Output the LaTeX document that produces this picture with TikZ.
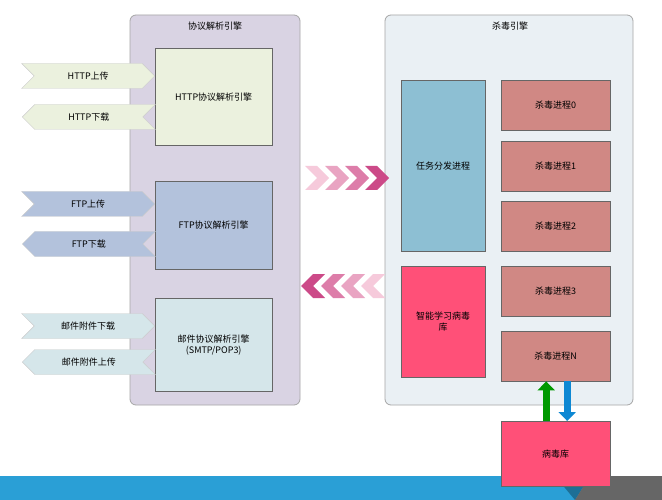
\documentclass[tikz,border=0pt]{standalone}
\usepackage{fontspec}
\setmainfont{Noto Sans CJK SC}
\usetikzlibrary{shapes.symbols,arrows.meta}
\definecolor{groupL}{HTML}{D9D3E3}
\definecolor{groupR}{HTML}{EAF0F4}
\definecolor{httpC}{HTML}{EBF1DE}
\definecolor{ftpC}{HTML}{B3C2DC}
\definecolor{mailC}{HTML}{D5E6EA}
\definecolor{taskC}{HTML}{8DBFD3}
\definecolor{libC}{HTML}{FF5078}
\definecolor{killC}{HTML}{D08884}
\definecolor{bandC}{HTML}{2A9FD6}
\definecolor{chevDark}{HTML}{CC4A88}
\definecolor{chevLight}{HTML}{F6CADB}
\begin{document}
\begin{tikzpicture}[x=1pt,y=-1pt,
	font=\fontsize{9}{11}\selectfont,
	group/.style={draw=gray!70, rounded corners=6pt, thick},
	block/.style={draw=gray!80!black, anchor=north west, inner sep=2pt, align=center},
	flowin/.style={shape=signal, signal to=east, signal from=west,
		minimum width=133pt, minimum height=25pt, inner sep=0pt, draw=gray!40, anchor=east},
	flowout/.style={shape=signal, signal to=west, signal from=east,
		minimum width=133pt, minimum height=25pt, inner sep=0pt, draw=gray!40, anchor=west},
	]
	\useasboundingbox (0,0) rectangle (662,500);
	\fill[white] (0,0) rectangle (662,500);

	% bottom band
	\fill[bandC] (0,476) rectangle (662,500);
	\fill[bandC!70!black] (555,476) -- (590,476) -- (575,500) -- cycle;
	\fill[gray!80!black] (590,476) -- (662,476) -- (662,500) -- (575,500) -- cycle;

	% containers
	\draw[group, fill=groupL] (130,15) rectangle (300,405);
	\node (protoT) at (215,26) {协议解析引擎};
	\draw[group, fill=groupR] (385,15) rectangle (633,405);
	\node (avT) at (510,26) {杀毒引擎};

	% protocol engines
	\node[block, fill=httpC, minimum width=117pt, minimum height=97pt] (http) at (155,48) {HTTP协议解析引擎};
	\node[block, fill=ftpC, minimum width=117pt, minimum height=88pt] (ftp) at (155,181) {FTP协议解析引擎};
	\node[block, fill=mailC, minimum width=117pt, minimum height=93pt] (mail) at (155,298) {邮件协议解析引擎\\(SMTP/POP3)};

	% in/out flows
	\node[flowin, fill=httpC] (httpUp) at (155,76) {HTTP上传};
	\node[flowout, fill=httpC] (httpDown) at (22,117) {HTTP下载};
	\node[flowin, fill=ftpC] (ftpUp) at (155,204) {FTP上传};
	\node[flowout, fill=ftpC] (ftpDown) at (22,244) {FTP下载};
	\node[flowin, fill=mailC] (mailDown) at (155,326) {邮件附件下载};
	\node[flowout, fill=mailC] (mailUp) at (22,362) {邮件附件上传};

	% antivirus engine
	\node[block, fill=taskC, minimum width=84pt, minimum height=171pt] (task) at (401,80) {任务分发进程};
	\node[block, fill=libC, minimum width=84pt, minimum height=111pt] (learn) at (401,266) {智能学习病毒\\库};
	\foreach \name/\y in {0/80, 1/141, 2/201, 3/266, N/331}
		\node[block, fill=killC, minimum width=109pt, minimum height=50pt] (kill\name) at (501,\y) {杀毒进程\name};
	\node[block, fill=libC, minimum width=109pt, minimum height=65pt] (virusDB) at (501,421) {病毒库};

	% chevrons between engines
	\foreach \i/\c in {0/0, 1/30, 2/60, 3/100} {
		\fill[chevDark!\c!chevLight] (305+\i*20,166) -- (317+\i*20,166) -- (329+\i*20,178)
			-- (317+\i*20,190) -- (305+\i*20,190) -- (317+\i*20,178) -- cycle;
		\fill[chevDark!\c!chevLight] (385-\i*20,274) -- (373-\i*20,274) -- (361-\i*20,286)
			-- (373-\i*20,298) -- (385-\i*20,298) -- (373-\i*20,286) -- cycle;
	}

	% database exchange
	\draw[green!60!black, line width=7pt, -{Triangle[length=9pt, width=17pt]}] ([xshift=-9.5pt]virusDB.north) -- ([xshift=-9.5pt]killN.south);
	\draw[cyan!70!blue, line width=7pt, -{Triangle[length=9pt, width=17pt]}] ([xshift=11.5pt]killN.south) -- ([xshift=11.5pt]virusDB.north);
\end{tikzpicture}
\end{document}
